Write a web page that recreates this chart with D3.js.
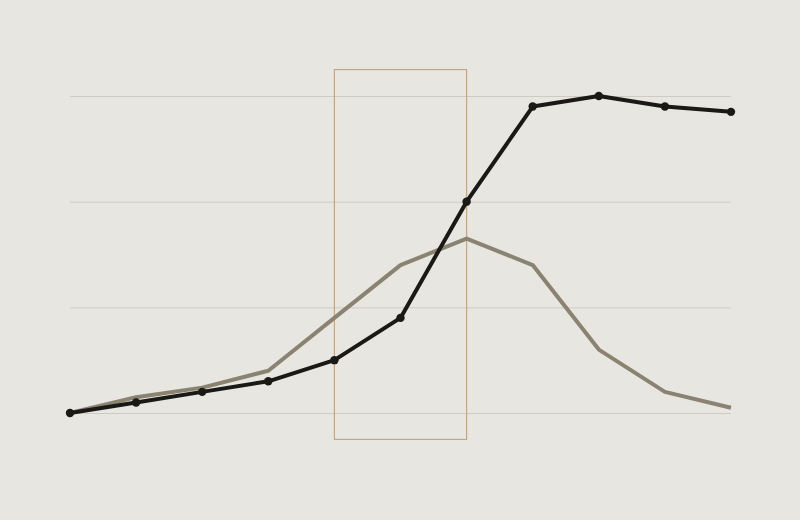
<!DOCTYPE html>
<html>
<head>
<meta charset="utf-8">
<script src="https://cdn.jsdelivr.net/npm/d3@7"></script>
<style>
  html, body { margin: 0; padding: 0; background: #e8e6e1; }
  svg { display: block; }
</style>
</head>
<body>
<svg id="chart" width="800" height="520"></svg>
<script>
const categories = [0, 1, 2, 3, 4, 5, 6, 7, 8, 9, 10];
const seriesDark = [0, 1, 2, 3, 5, 9, 20, 29, 30, 29, 28.5];
const seriesGray = [0, 1.5, 2.4, 4, 9, 14, 16.5, 14, 6, 2, 0.5];
const yTicks = [0, 10, 20, 30];
const highlightRange = [4, 6];
const highlightValues = [-2.5, 32.5];

const svg = d3.select("#chart");
const W = 800, H = 520;
svg.append("rect").attr("width", W).attr("height", H).attr("fill", "#e8e6e1");

const x = d3.scaleLinear().domain([0, 10]).range([70, 731]);
const y = d3.scaleLinear().domain([0, 30]).range([413, 96]);

// gridlines
svg.append("g")
  .attr("transform", "translate(70,0)")
  .call(d3.axisLeft(y).tickValues(yTicks).tickSize(-(731 - 70)).tickFormat(""))
  .call(g => g.select(".domain").remove())
  .call(g => g.selectAll(".tick line").attr("stroke", "#cfcac2").attr("stroke-width", 1));

// highlight rectangle
svg.append("rect")
  .attr("x", x(highlightRange[0]))
  .attr("y", y(highlightValues[1]))
  .attr("width", x(highlightRange[1]) - x(highlightRange[0]))
  .attr("height", y(highlightValues[0]) - y(highlightValues[1]))
  .attr("fill", "none")
  .attr("stroke", "#bea98b")
  .attr("stroke-width", 1.2);

const line = d3.line().x((d, i) => x(categories[i])).y(d => y(d));

svg.append("path")
  .datum(seriesGray)
  .attr("d", line)
  .attr("fill", "none")
  .attr("stroke", "#8a8372")
  .attr("stroke-width", 4)
  .attr("stroke-linejoin", "round");

svg.append("path")
  .datum(seriesDark)
  .attr("d", line)
  .attr("fill", "none")
  .attr("stroke", "#1b1915")
  .attr("stroke-width", 4)
  .attr("stroke-linejoin", "round");

svg.append("g").selectAll("circle")
  .data(seriesDark)
  .join("circle")
  .attr("cx", (d, i) => x(categories[i]))
  .attr("cy", d => y(d))
  .attr("r", 4.2)
  .attr("fill", "#1b1915");
</script>
</body>
</html>
